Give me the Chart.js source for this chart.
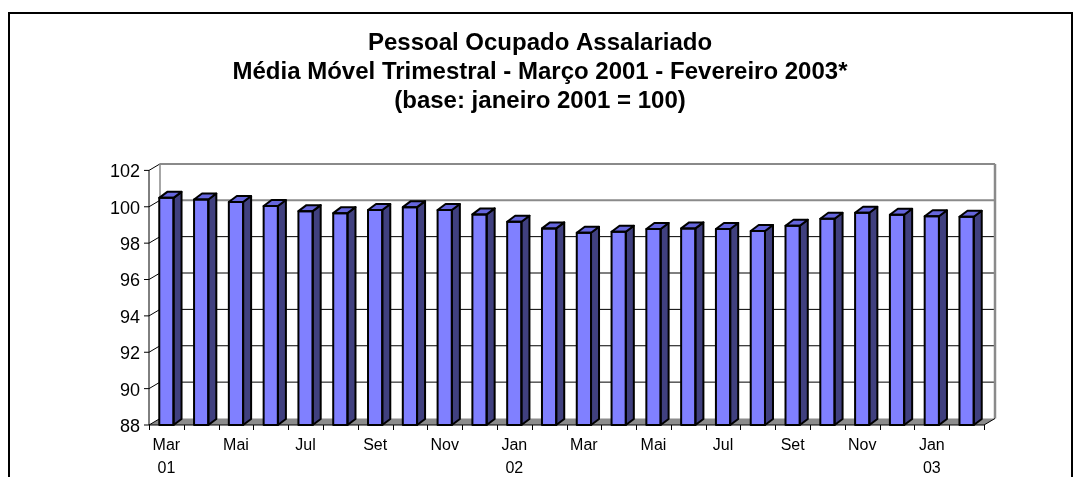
<!DOCTYPE html>
<html><head><meta charset="utf-8">
<script src="https://cdn.jsdelivr.net/npm/chart.js@4/dist/chart.umd.min.js"></script>
<style>html,body{margin:0;padding:0;background:#fff}#wrap{width:1080px;height:477px;position:relative}</style>
</head><body><div id="wrap"><canvas id="c" width="1080" height="477"></canvas></div>
<script>
const categories = ["Mar 01","Abr 01","Mai 01","Jun 01","Jul 01","Ago 01","Set 01","Out 01","Nov 01","Dez 01",
  "Jan 02","Fev 02","Mar 02","Abr 02","Mai 02","Jun 02","Jul 02","Ago 02","Set 02","Out 02","Nov 02","Dez 02",
  "Jan 03","Fev 03"];
const values = [100.49,100.40,100.26,100.04,99.76,99.65,99.82,99.98,99.82,99.58,
  99.18,98.81,98.57,98.63,98.78,98.81,98.78,98.67,98.96,99.34,99.67,99.56,99.48,99.45];
const xTickLabels = [["Mar","01"],"","Mai","","Jul","","Set","","Nov","",["Jan","02"],"",
  "Mar","","Mai","","Jul","","Set","","Nov","",["Jan","03"],""];
const yTicks = [88,90,92,94,96,98,100,102];
const titleLines = ["Pessoal Ocupado Assalariado",
  "Média Móvel Trimestral - Março 2001 - Fevereiro 2003*",
  "(base: janeiro 2001 = 100)"];

const FONT = "'Liberation Sans', Arial, sans-serif";
const WALL = {dx: 11, dy: -6.5};
const BAR = {dx: 8, dy: -6};

const framePlugin = {
  id: 'frame',
  beforeDraw(chart) {
    const ctx = chart.ctx;
    ctx.save();
    ctx.fillStyle = '#fff';
    ctx.fillRect(0, 0, chart.width, chart.height);
    ctx.strokeStyle = '#000';
    ctx.lineWidth = 2;
    ctx.beginPath();
    ctx.moveTo(9, 480); ctx.lineTo(9, 13); ctx.lineTo(1072, 13); ctx.lineTo(1072, 480);
    ctx.stroke();
    ctx.restore();
  }
};

const wallsPlugin = {
  id: 'walls',
  beforeDatasetsDraw(chart) {
    const ctx = chart.ctx, ys = chart.scales.y;
    const a = chart.chartArea;
    const L = a.left, R = a.right, B = ys.getPixelForValue(yTicks[0]), T = ys.getPixelForValue(yTicks[yTicks.length - 1]);
    const dx = WALL.dx, dy = WALL.dy;
    ctx.save();
    // floor
    ctx.fillStyle = '#8c8c8c';
    ctx.beginPath();
    ctx.moveTo(L, B); ctx.lineTo(R, B); ctx.lineTo(R + dx, B + dy); ctx.lineTo(L + dx, B + dy); ctx.closePath();
    ctx.fill();
    // gridlines on side + back wall
    yTicks.forEach(v => {
      const py = ys.getPixelForValue(v);
      ctx.beginPath();
      ctx.strokeStyle = '#000'; ctx.lineWidth = 1;
      ctx.moveTo(L, py); ctx.lineTo(L + dx, py + dy);
      ctx.stroke();
      ctx.beginPath(); ctx.strokeStyle = '#000'; ctx.lineWidth = 1;
      ctx.moveTo(L - 5, py); ctx.lineTo(L, py); ctx.stroke();
      if (v === yTicks[0]) return;
      const gray = (v === 100 || v === 102);
      ctx.beginPath();
      ctx.strokeStyle = gray ? '#8a8a8a' : '#000';
      ctx.lineWidth = gray ? 2 : 1;
      ctx.moveTo(L + dx, py + dy); ctx.lineTo(R + dx, py + dy);
      ctx.stroke();
    });
    // wall edges
    ctx.strokeStyle = '#8a8a8a'; ctx.lineWidth = 1.5;
    ctx.beginPath(); ctx.moveTo(L + dx, T + dy); ctx.lineTo(L + dx, B + dy); ctx.stroke();
    ctx.lineWidth = 2.5;
    ctx.beginPath(); ctx.moveTo(R + dx, T + dy); ctx.lineTo(R + dx, B + dy); ctx.stroke();
    // floor right diagonal
    ctx.strokeStyle = '#000'; ctx.lineWidth = 1;
    ctx.beginPath(); ctx.moveTo(R, B); ctx.lineTo(R + dx, B + dy); ctx.stroke();
    // front axes
    ctx.beginPath(); ctx.moveTo(L, T); ctx.lineTo(L, B); ctx.lineTo(R, B); ctx.stroke();
    const n = categories.length, cw = (R - L) / n;
    for (let i = 0; i <= n; i++) {
      const px = Math.round(L + i * cw) + 0.5;
      ctx.beginPath(); ctx.moveTo(px, B); ctx.lineTo(px, B + 5); ctx.stroke();
    }
    ctx.restore();
  },
  afterDatasetsDraw(chart) {
    const ctx = chart.ctx;
    const meta = chart.getDatasetMeta(0);
    ctx.save();
    ctx.lineJoin = 'round';
    ctx.strokeStyle = '#000';
    ctx.lineWidth = 2;
    meta.data.forEach(el => {
      const p = el.getProps(['x', 'y', 'base', 'width'], true);
      const l = p.x - p.width / 2, r = p.x + p.width / 2, t = p.y, b = p.base;
      // side
      ctx.beginPath();
      ctx.moveTo(r, t); ctx.lineTo(r + BAR.dx, t + BAR.dy); ctx.lineTo(r + BAR.dx, b + BAR.dy); ctx.lineTo(r, b); ctx.closePath();
      ctx.fillStyle = '#40407f'; ctx.fill(); ctx.stroke();
      // top
      ctx.beginPath();
      ctx.moveTo(l, t); ctx.lineTo(r, t); ctx.lineTo(r + BAR.dx, t + BAR.dy); ctx.lineTo(l + BAR.dx, t + BAR.dy); ctx.closePath();
      ctx.fillStyle = '#6666dd'; ctx.fill(); ctx.stroke();
      // front outline
      ctx.strokeRect(l, t, r - l, b - t);
    });
    ctx.restore();
  }
};

new Chart(document.getElementById('c'), {
  type: 'bar',
  data: {
    labels: categories,
    datasets: [{
      data: values,
      base: 88,
      backgroundColor: '#8080ff',
      borderColor: '#000',
      borderWidth: 0,
      barPercentage: 0.41,
      categoryPercentage: 1.0
    }]
  },
  options: {
    responsive: false,
    animation: false,
    devicePixelRatio: 1,
    layout: { padding: 0 },
    plugins: {
      legend: { display: false },
      tooltip: { enabled: false },
      title: {
        display: true,
        text: titleLines,
        color: '#000',
        font: { family: FONT, size: 24, weight: 'bold', lineHeight: 1.2 },
        padding: { top: 29, bottom: 55 }
      }
    },
    scales: {
      x: {
        grid: { display: false, drawTicks: false },
        border: { display: false },
        ticks: {
          autoSkip: false, maxRotation: 0, minRotation: 0,
          color: '#000', padding: 9,
          font: { family: FONT, size: 16, lineHeight: 1.45 },
          callback: (v, i) => xTickLabels[i]
        },
        afterFit: s => { s.height = 52; }
      },
      y: {
        min: 88, max: 102,
        grid: { display: false, drawTicks: false },
        border: { display: false },
        ticks: {
          stepSize: 2, color: '#000', padding: 9, labelOffset: 2,
          font: { family: FONT, size: 18 },
          callback: v => yTicks.includes(v) ? String(v) : ''
        },
        afterFit: s => { s.width = 149; }
      },
      yRight: {
        position: 'right',
        display: true,
        grid: { display: false, drawTicks: false },
        border: { display: false },
        ticks: { display: false },
        afterFit: s => { s.width = 96; }
      }
    }
  },
  plugins: [framePlugin, wallsPlugin]
});
</script>
</body></html>
